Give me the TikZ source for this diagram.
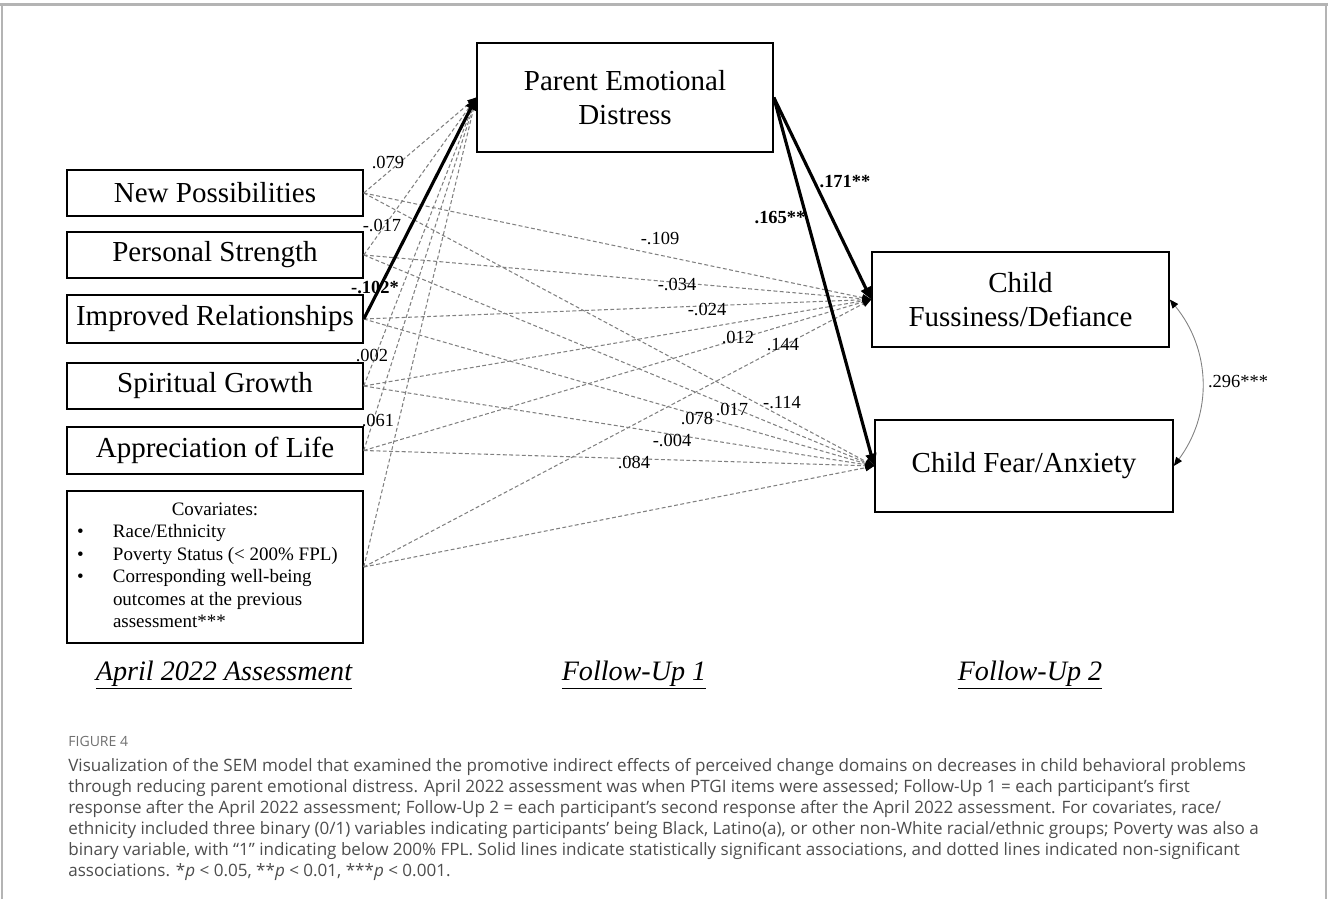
\documentclass[tikz,border=0pt]{standalone}
\usepackage{fontspec}
\setmainfont{Liberation Serif}
\newfontfamily\capfont{Open Sans}
\usetikzlibrary{arrows.meta}
\definecolor{capgray}{HTML}{4D4D4D}
\definecolor{figgray}{HTML}{707070}
\definecolor{framegray}{HTML}{B4B4B4}

\begin{document}
\begin{tikzpicture}[box node/.style={draw, line width=0.9pt, inner sep=0pt, minimum width=5.92cm, align=center, font=\fontsize{16.5}{19.8}\selectfont},
  coef/.style={inner sep=1pt, font=\fontsize{10.5}{12}\selectfont},
  dash edge/.style={draw=gray, line width=0.6pt, dash pattern=on 2.2pt off 1.4pt, -{Triangle[length=5pt,width=4pt,color=black]}},
  sig edge/.style={draw=black, line width=1.8pt, -{Triangle[length=7pt,width=6pt]}},
  head/.style={font=\fontsize{16}{19}\selectfont\itshape},
  cap line/.style={anchor=west, inner sep=0pt, text=capgray, font=\capfont\fontsize{9.7}{12}\selectfont}]

\useasboundingbox (0,0) rectangle (26.56,-17.98);

% frame
\draw[framegray, line width=0.6pt] (0.04,-17.98) -- (0.04,-0.09) -- (26.52,-0.09) -- (26.52,-17.98);
\draw[framegray, line width=1.4pt] (0,-0.09) -- (26.56,-0.09);

% variables
\node[box node, minimum height=2.18cm, font=\fontsize{16.5}{19.3}\selectfont] (ped) at (12.5,-1.95) {Parent Emotional\\Distress};
\node[box node, minimum height=0.92cm] (np) at (4.3,-3.86) {New Possibilities};
\node[box node, minimum height=0.92cm] (ps) at (4.3,-5.1) {Personal Strength};
\node[box node, minimum height=0.96cm] (ir) at (4.3,-6.38) {Improved Relationships};
\node[box node, minimum height=0.92cm] (sg) at (4.3,-7.72) {Spiritual Growth};
\node[box node, minimum height=0.94cm] (al) at (4.3,-9.01) {Appreciation of Life};
\node[box node, minimum height=3.04cm, font=\fontsize{10.8}{12.76}\selectfont] (cov) at (4.3,-11.34) {%
  \begin{tabular}{@{\hspace{0.2cm}}p{0.72cm}@{}p{5.0cm}@{}}
  \multicolumn{2}{@{}c@{}}{\makebox[5.92cm]{Covariates:}}\\
  \textbullet & Race/Ethnicity\\
  \textbullet & Poverty Status (< 200\% FPL)\\
  \textbullet & Corresponding well-being\\
   & outcomes at the previous\\
   & assessment***
  \end{tabular}};
\node[box node, minimum width=5.94cm, minimum height=1.9cm] (cfd) at (20.41,-5.99) {Child\\Fussiness/Defiance};
\node[box node, minimum width=5.96cm, minimum height=1.84cm] (cfa) at (20.48,-9.32) {Child Fear/Anxiety};

% waves
\node[head] (w0) at (4.48,-13.5) {\underline{April 2022 Assessment}};
\node[head] (w1) at (12.68,-13.5) {\underline{Follow-Up 1}};
\node[head] (w2) at (20.6,-13.5) {\underline{Follow-Up 2}};

% paths
\foreach \src in {np,ps,sg,al,cov}
  \draw[dash edge] (\src.east) -- (ped.west);
\foreach \src in {np,ps,ir,sg,al,cov} {
  \draw[dash edge] (\src.east) -- (cfd.west);
  \draw[dash edge] (\src.east) -- (cfa.west);
}
\draw[sig edge] (ir.east) -- (ped.west);
\draw[sig edge] (ped.east) -- (cfd.west);
\draw[sig edge] (ped.east) -- (cfa.west);
\draw[draw=gray, line width=0.5pt, {Triangle[length=5pt,width=4pt,color=black]}-{Triangle[length=5pt,width=4pt,color=black]}] (cfd.east) to[bend left=38] (cfa.east);

% coefficients
\node[coef] (c1) at (7.76,-3.24) {.079};
\node[coef] (c2) at (7.64,-4.5) {-.017};
\node[coef, font=\fontsize{10.5}{12}\selectfont\bfseries] (c3) at (7.5,-5.74) {-.102*};
\node[coef] (c4) at (7.44,-7.1) {.002};
\node[coef] (c5) at (7.56,-8.4) {.061};
\node[coef] (c6) at (13.2,-4.76) {-.109};
\node[coef] (c7) at (13.54,-5.68) {-.034};
\node[coef] (c8) at (14.14,-6.18) {-.024};
\node[coef] (c9) at (14.76,-6.74) {.012};
\node[coef] (c10) at (15.66,-6.9) {.144};
\node[coef] (c11) at (15.64,-8.06) {-.114};
\node[coef] (c12) at (14.64,-8.18) {.017};
\node[coef] (c13) at (13.94,-8.36) {.078};
\node[coef] (c14) at (13.44,-8.8) {-.004};
\node[coef] (c15) at (12.68,-9.24) {.084};
\node[coef, font=\fontsize{10.5}{12}\selectfont\bfseries] (c16) at (16.9,-3.64) {.171**};
\node[coef, font=\fontsize{10.5}{12}\selectfont\bfseries] (c17) at (15.6,-4.36) {.165**};
\node[coef] (c18) at (24.76,-7.64) {.296***};

% caption
\node[cap line, text=figgray, font=\capfont\fontsize{8}{10}\selectfont] (fig) at (1.36,-14.82) {FIGURE 4};
\node[cap line] (t1) at (1.36,-15.34) {Visualization of the SEM model that examined the promotive indirect effects of perceived change domains on decreases in child behavioral problems};
\node[cap line] (t2) at (1.36,-15.76) {through reducing parent emotional distress. April 2022 assessment was when PTGI items were assessed; Follow-Up 1 = each participant’s first};
\node[cap line] (t3) at (1.36,-16.18) {response after the April 2022 assessment; Follow-Up 2 = each participant’s second response after the April 2022 assessment. For covariates, race/};
\node[cap line] (t4) at (1.36,-16.6) {ethnicity included three binary (0/1) variables indicating participants’ being Black, Latino(a), or other non-White racial/ethnic groups; Poverty was also a};
\node[cap line] (t5) at (1.36,-17.02) {binary variable, with “1” indicating below 200\% FPL. Solid lines indicate statistically significant associations, and dotted lines indicated non-significant};
\node[cap line] (t6) at (1.36,-17.44) {associations. *\textit{p} < 0.05, **\textit{p} < 0.01, ***\textit{p} < 0.001.};
\end{tikzpicture}
\end{document}
